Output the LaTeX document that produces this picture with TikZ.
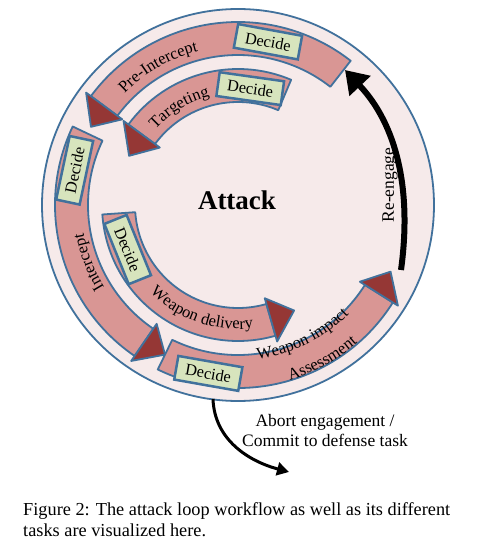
\documentclass[tikz,border=0pt]{standalone}
\usepackage{fontspec}
\setmainfont{Liberation Serif}
\usetikzlibrary{calc,arrows.meta,decorations.text}
\definecolor{cblue}{HTML}{41719C}
\definecolor{cband}{HTML}{D99694}
\definecolor{chead}{HTML}{953735}
\definecolor{cgreen}{HTML}{D7E4BD}
\definecolor{cbg}{HTML}{F6EAEA}
\newcommand\lblfont{\fontsize{16.5}{19}\selectfont}
\newcommand\bandarc[5]{%
 \filldraw[bandst] ($(C)+(#1:#5)$) arc[start angle=#1,end angle=#2,radius=#5] -- ($(C)+(#2:#4)$) arc[start angle=#2,end angle=#1,radius=#4] -- cycle;
 \filldraw[headst] ($(C)+(#2:{(#4+#5)/2+22.5})$) -- ($(C)+(#3:{(#4+#5)/2})$) -- ($(C)+(#2:{(#4+#5)/2-22.5})$) -- cycle;}
\newcommand\arclabel[4]{% start angle, end angle, radius, text
 \path[decorate,decoration={text along path,text={|\lblfont|#4},text align=center}] ($(C)+(#1:#3)$) arc[start angle=#1,end angle=#2,radius=#3];}
\begin{document}
\begin{tikzpicture}[x=1pt,y=1pt,
  circst/.style={fill=cbg,draw=cblue,line width=1.8pt},
  bandst/.style={fill=cband,draw=cblue,line width=1.8pt,line join=round},
  headst/.style={fill=chead,draw=cblue,line width=1.8pt,line join=round},
  decide/.style={draw=cblue,fill=cgreen,line width=2.5pt,minimum width=65,minimum height=24,inner sep=1.5pt,font=\fontsize{16.3}{18}\selectfont},
  txt/.style={font=\fontsize{17.5}{20}\selectfont,inner sep=0pt},
  captxt/.style={font=\fontsize{18.3}{21}\selectfont,inner sep=0pt}]
\useasboundingbox (0,0) rectangle (484,550);
\fill[white] (0,0) rectangle (484,550);
\coordinate (C) at (238,345);
\filldraw[circst] (C) circle[radius=196];
% re-engage connector
\coordinate (re1) at (401,280);
\coordinate (re2) at (345,480);
\draw[line width=6pt,-{Triangle[length=22pt,width=28pt]}] (re1) .. controls (412,360) and (397,425) .. (re2);
% bands
\bandarc{52}{143.5}{152}{150}{183}
\bandarc{67}{143.7}{155.7}{103}{136}
\bandarc{154.6}{235.6}{244}{150}{183}
\bandarc{184}{286}{298}{103}{136}
\bandarc{244}{327.8}{336.4}{150}{183}
% decide boxes
\node[decide,rotate=-10.4] (d1) at ($(C)+(79.6:166)$) {Decide};
\node[decide,rotate=-8] (d2) at ($(C)+(84:117)$) {Decide};
\node[decide,rotate=78] (d3) at ($(C)+(168:167)$) {Decide};
\node[decide,rotate=-68] (d4) at ($(C)+(202:119)$) {Decide};
\node[decide,rotate=-10] (d5) at ($(C)+(260:171)$) {Decide};
% curved labels
\arclabel{150}{90}{159}{Pre-Intercept}
\arclabel{151}{91}{112}{Targeting}
\arclabel{231}{171}{157}{Intercept}
\arclabel{221}{281}{124}{Weapon delivery}
\arclabel{266.4}{326.4}{155.5}{Weapon impact}
\arclabel{268.7}{328.7}{182.5}{Assessment}
% centre and side labels
\node[font=\bfseries\fontsize{27}{30}\selectfont] (attack) at (237,350) {Attack};
\node[txt,rotate=90] (reeng) at (390,365) {Re-engage};
% abort connector
\coordinate (ab1) at (213,151);
\coordinate (ab2) at (289,78);
\draw[line width=3pt,-{Triangle[length=12pt,width=13pt]}] (ab1) to[out=-88,in=165] (ab2);
\node[txt,anchor=base] (ab3) at (325,123.3) {Abort engagement /};
\node[txt,anchor=base] (ab4) at (325,103.3) {Commit to defense task};
% caption
\node[captxt,anchor=base west] (cap1) at (23,34.3) {Figure 2: The attack loop workflow as well as its different};
\node[captxt,anchor=base west] (cap2) at (23,13.3) {tasks are visualized here.};
\end{tikzpicture}
\end{document}
